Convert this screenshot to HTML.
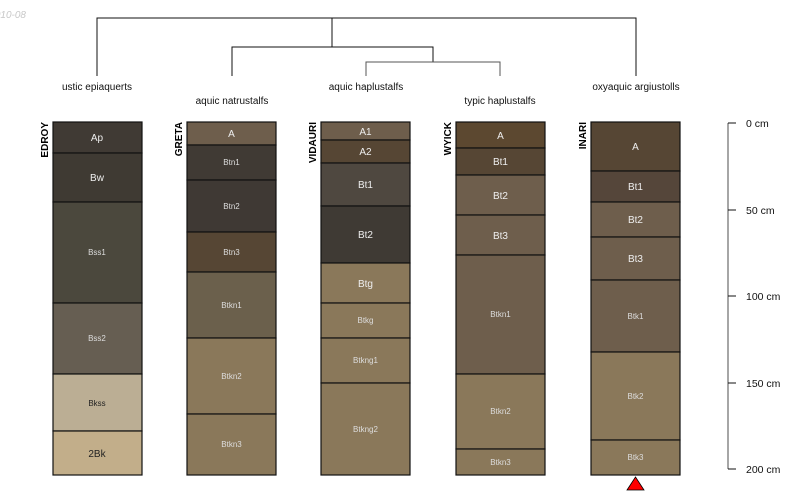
<!DOCTYPE html>
<html><head><meta charset="utf-8"><style>
html,body{margin:0;padding:0;background:#fff;}
svg{display:block;font-family:"Liberation Sans",sans-serif;}
.b{font-size:10px;fill:#eee;text-anchor:middle;}
.s{font-size:8px;fill:#ddd;text-anchor:middle;}
.d{fill:#222;}
.n{font-size:10px;font-weight:bold;text-anchor:end;fill:#000;}
.t{font-size:10px;text-anchor:middle;fill:#111;}
rect{stroke:#111;stroke-width:1.2;}
</style></head><body>
<svg width="800" height="500" viewBox="0 0 800 500">
<text x="26" y="18" font-size="10" font-style="italic" fill="#c8c8c8" text-anchor="end">2010-08</text>
<g stroke="#111" stroke-width="1" fill="none">
<path d="M97,76V18H636V76"/>
<path d="M332,18V47"/>
<path d="M232,76V47H433V62"/>
<path d="M366,76V62H500V76" stroke="#555"/>
</g>
<text class="t" x="97" y="90">ustic epiaquerts</text>
<text class="t" x="232" y="104">aquic natrustalfs</text>
<text class="t" x="366" y="90">aquic haplustalfs</text>
<text class="t" x="500" y="104">typic haplustalfs</text>
<text class="t" x="636" y="90">oxyaquic argiustolls</text>

<!-- EDROY -->
<g>
<rect x="53" y="122" width="89" height="31" fill="#403a34"/>
<rect x="53" y="153" width="89" height="49" fill="#3f3a33"/>
<rect x="53" y="202" width="89" height="101" fill="#4b483d"/>
<rect x="53" y="303" width="89" height="71" fill="#665e52"/>
<rect x="53" y="374" width="89" height="57" fill="#bbae94"/>
<rect x="53" y="431" width="89" height="44" fill="#c2ae8a"/>
<text class="b" x="97" y="141">Ap</text>
<text class="b" x="97" y="181">Bw</text>
<text class="s" x="97" y="255">Bss1</text>
<text class="s" x="97" y="341">Bss2</text>
<text class="s d" x="97" y="406">Bkss</text>
<text class="b d" x="97" y="457">2Bk</text>
<text class="n" transform="translate(48,122) rotate(-90)">EDROY</text>
</g>
<!-- GRETA -->
<g>
<rect x="187" y="122" width="89" height="23" fill="#6e5e4c"/>
<rect x="187" y="145" width="89" height="35" fill="#403a34"/>
<rect x="187" y="180" width="89" height="52" fill="#3f3934"/>
<rect x="187" y="232" width="89" height="40" fill="#564634"/>
<rect x="187" y="272" width="89" height="66" fill="#6b604c"/>
<rect x="187" y="338" width="89" height="76" fill="#8a785a"/>
<rect x="187" y="414" width="89" height="61" fill="#8a785a"/>
<text class="b" x="231.5" y="137">A</text>
<text class="s" x="231.5" y="165">Btn1</text>
<text class="s" x="231.5" y="209">Btn2</text>
<text class="s" x="231.5" y="255">Btn3</text>
<text class="s" x="231.5" y="308">Btkn1</text>
<text class="s" x="231.5" y="379">Btkn2</text>
<text class="s" x="231.5" y="447">Btkn3</text>
<text class="n" transform="translate(182,122) rotate(-90)">GRETA</text>
</g>
<!-- VIDAURI -->
<g>
<rect x="321" y="122" width="89" height="18" fill="#6e5e4c"/>
<rect x="321" y="140" width="89" height="23" fill="#564634"/>
<rect x="321" y="163" width="89" height="43" fill="#4f4840"/>
<rect x="321" y="206" width="89" height="57" fill="#3f3a34"/>
<rect x="321" y="263" width="89" height="40" fill="#8a785a"/>
<rect x="321" y="303" width="89" height="35" fill="#8a785a"/>
<rect x="321" y="338" width="89" height="45" fill="#8a785a"/>
<rect x="321" y="383" width="89" height="92" fill="#8a785a"/>
<text class="b" x="365.5" y="135">A1</text>
<text class="b" x="365.5" y="155">A2</text>
<text class="b" x="365.5" y="188">Bt1</text>
<text class="b" x="365.5" y="238">Bt2</text>
<text class="b" x="365.5" y="287">Btg</text>
<text class="s" x="365.5" y="323">Btkg</text>
<text class="s" x="365.5" y="363">Btkng1</text>
<text class="s" x="365.5" y="432">Btkng2</text>
<text class="n" transform="translate(316,122) rotate(-90)">VIDAURI</text>
</g>
<!-- WYICK -->
<g>
<rect x="456" y="122" width="89" height="26" fill="#5c4830"/>
<rect x="456" y="148" width="89" height="27" fill="#564634"/>
<rect x="456" y="175" width="89" height="40" fill="#6e5e4c"/>
<rect x="456" y="215" width="89" height="40" fill="#6e5e4c"/>
<rect x="456" y="255" width="89" height="119" fill="#6e5e4c"/>
<rect x="456" y="374" width="89" height="75" fill="#8a785a"/>
<rect x="456" y="449" width="89" height="26" fill="#8a785a"/>
<text class="b" x="500.5" y="139">A</text>
<text class="b" x="500.5" y="165">Bt1</text>
<text class="b" x="500.5" y="199">Bt2</text>
<text class="b" x="500.5" y="239">Bt3</text>
<text class="s" x="500.5" y="317">Btkn1</text>
<text class="s" x="500.5" y="414">Btkn2</text>
<text class="s" x="500.5" y="465">Btkn3</text>
<text class="n" transform="translate(451,122) rotate(-90)">WYICK</text>
</g>
<!-- INARI -->
<g>
<rect x="591" y="122" width="89" height="49" fill="#564634"/>
<rect x="591" y="171" width="89" height="31" fill="#55463a"/>
<rect x="591" y="202" width="89" height="35" fill="#6e5e4c"/>
<rect x="591" y="237" width="89" height="43" fill="#6e5e4c"/>
<rect x="591" y="280" width="89" height="72" fill="#6e5e4c"/>
<rect x="591" y="352" width="89" height="88" fill="#8a785a"/>
<rect x="591" y="440" width="89" height="35" fill="#8a785a"/>
<text class="b" x="635.5" y="150">A</text>
<text class="b" x="635.5" y="190">Bt1</text>
<text class="b" x="635.5" y="223">Bt2</text>
<text class="b" x="635.5" y="262">Bt3</text>
<text class="s" x="635.5" y="319">Btk1</text>
<text class="s" x="635.5" y="399">Btk2</text>
<text class="s" x="635.5" y="460">Btk3</text>
<text class="n" transform="translate(586,122) rotate(-90)">INARI</text>
</g>
<polygon points="627,490 644,490 635.5,477" fill="#f00" stroke="#000" stroke-width="0.8"/>

<!-- scale -->
<g stroke="#888" stroke-width="1.5"><path d="M728,123V469"/></g>
<g stroke="#111" stroke-width="1">
<path d="M728,123H736M728,210H736M728,296H736M728,383H736M728,469H736"/>
</g>
<g font-size="10.5" fill="#111">
<text x="746" y="127">0 cm</text>
<text x="746" y="214">50 cm</text>
<text x="746" y="300">100 cm</text>
<text x="746" y="387">150 cm</text>
<text x="746" y="473">200 cm</text>
</g>
</svg>
</body></html>
